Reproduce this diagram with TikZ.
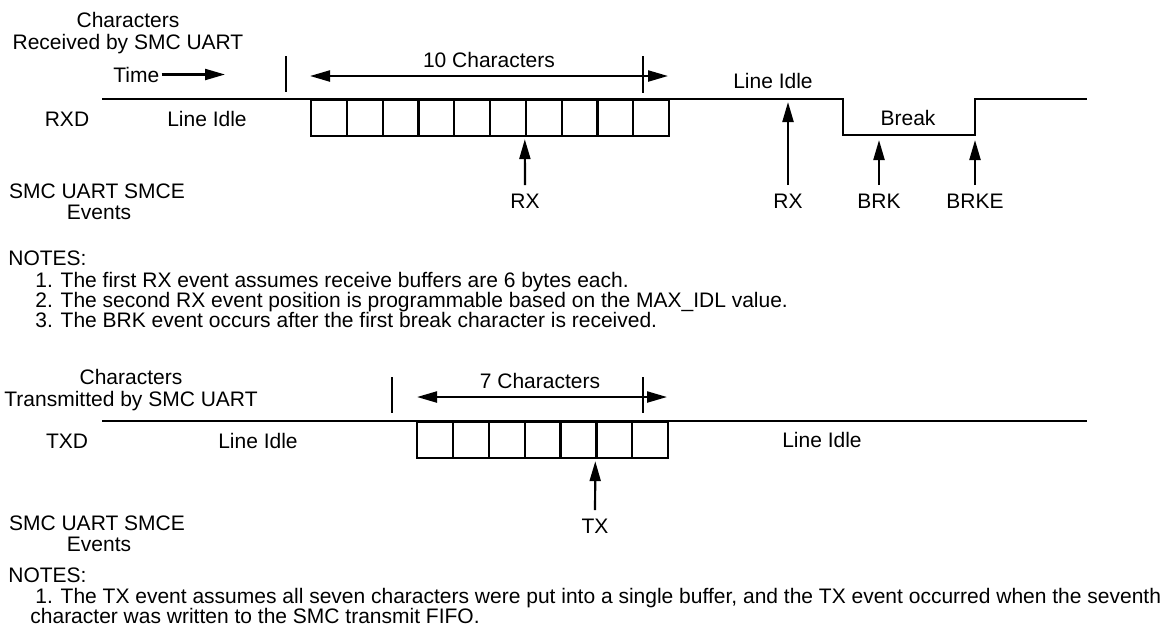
\documentclass[tikz,border=0pt]{standalone}
\usepackage{fontspec}
\setmainfont{Liberation Sans}
\usetikzlibrary{arrows.meta}
\begin{document}
\begin{tikzpicture}[x=0.5pt,y=-0.5pt,
  wire/.style={line width=1.1pt, line join=miter},
  arr/.style={wire,-{Triangle[length=10pt,width=5.5pt]}},
  darr/.style={wire,{Triangle[length=10pt,width=5.5pt]}-{Triangle[length=10pt,width=5.5pt]}},
  lbl/.style={font=\fontsize{10.5pt}{12pt}\selectfont, inner sep=0pt, anchor=base},
  note/.style={lbl, anchor=base west},
  cell/.style={draw, line width=1.1pt, minimum width=17.9pt, minimum height=18pt, inner sep=0pt, anchor=north west}]
\useasboundingbox (0,0) rectangle (1171,628);

% ---------------- Receive diagram ----------------
\node[lbl] (rcvA) at (128,27) {Characters};
\node[lbl] (rcvB) at (128,49) {Received by SMC UART};
\node[note] (time) at (113,82) {Time};
\coordinate (timeend) at (225,76);
\draw[arr] ([xshift=1pt]time.east) -- (timeend |- time.east);

\coordinate (tk1a) at (286,56); \coordinate (tk1b) at (286,92);
\coordinate (tk2a) at (643,56); \coordinate (tk2b) at (643,93);
\draw[wire] (tk1a) -- (tk1b);
\draw[wire] (tk2a) -- (tk2b);
\coordinate (d1) at (310,76); \coordinate (d2) at (668,76);
\draw[darr] (d1) -- (d2);
\node[lbl] (tenc) at (489,67) {10 Characters};

\node[lbl] (rxd) at (67,126) {RXD};
\node[lbl] (idle1) at (207,126) {Line Idle};
\node[lbl] (idle2) at (773,88) {Line Idle};
\node[lbl] (brk) at (908,125) {Break};

\foreach \i in {0,...,9}
  \node[cell] (r\i) at ({310+35.8*\i},99) {};

\coordinate (rxs) at (102,99);
\coordinate (b1) at (843,99);
\coordinate (b2) at (843,135);
\coordinate (b3) at (975,135);
\coordinate (b4) at (975,99);
\coordinate (rxe) at (1087,99);
\draw[wire] (rxs) -- (b1) -- (b2) -- (b3) -- (b4) -- (rxe);

\node[lbl] (evA) at (97,198) {SMC UART SMCE};
\node[lbl] (evB) at (99,219) {Events};

\node[lbl] (rx1) at (525,208) {RX};
\node[lbl] (rx2) at (788,208) {RX};
\node[lbl] (brkl) at (879,208) {BRK};
\node[lbl] (brke) at (975,208) {BRKE};
\draw[arr, shorten <=4pt, shorten >=1pt] (rx1.north) -- (r6.south west);
\draw[arr, shorten <=4pt, shorten >=1.5pt] (rx2.north) -- (rx2.north |- rxe);
\draw[arr, shorten <=4pt, shorten >=2.5pt] (brkl.north) -- (brkl.north |- b2);
\draw[arr, shorten <=4pt, shorten >=2.5pt] (brke.north) -- (b3);

\node[note] (n0) at (8,265) {NOTES:};
\node[note] (n1) at (35,287) {1. The first RX event assumes receive buffers are 6 bytes each.};
\node[note] (n2) at (35,307) {2. The second RX event position is programmable based on the MAX\_IDL value.};
\node[note] (n3) at (35,327) {3. The BRK event occurs after the first break character is received.};

% ---------------- Transmit diagram ----------------
\node[lbl] (trA) at (131,384) {Characters};
\node[lbl] (trB) at (131,406) {Transmitted by SMC UART};

\coordinate (tk3a) at (392,377); \coordinate (tk3b) at (392,413);
\coordinate (tk4a) at (643,377); \coordinate (tk4b) at (643,413);
\draw[wire] (tk3a) -- (tk3b);
\draw[wire] (tk4a) -- (tk4b);
\coordinate (d3) at (417,397); \coordinate (d4) at (667,397);
\draw[darr] (d3) -- (d4);
\node[lbl] (sevc) at (540,388) {7 Characters};

\node[lbl] (txd) at (67,448) {TXD};
\node[lbl] (idle3) at (258,448) {Line Idle};
\node[lbl] (idle4) at (822,447) {Line Idle};

\coordinate (txs) at (102,421);
\coordinate (txe) at (1087,421);
\draw[wire] (txs) -- (txe);
\foreach \i in {0,...,6}
  \node[cell] (t\i) at ({416+35.86*\i},421) {};

\node[lbl] (evC) at (97,530) {SMC UART SMCE};
\node[lbl] (evD) at (99,551) {Events};
\node[lbl] (tx) at (595,533) {TX};
\draw[arr, shorten <=4pt, shorten >=1pt] (tx.north) -- (t5.south west);

\node[note] (m0) at (8,582) {NOTES:};
\node[note] (m1) at (35,603) {1. The TX event assumes all seven characters were put into a single buffer, and the TX event occurred when the seventh};
\node[note] (m2) at (30,623) {character was written to the SMC transmit FIFO.};
\end{tikzpicture}
\end{document}
